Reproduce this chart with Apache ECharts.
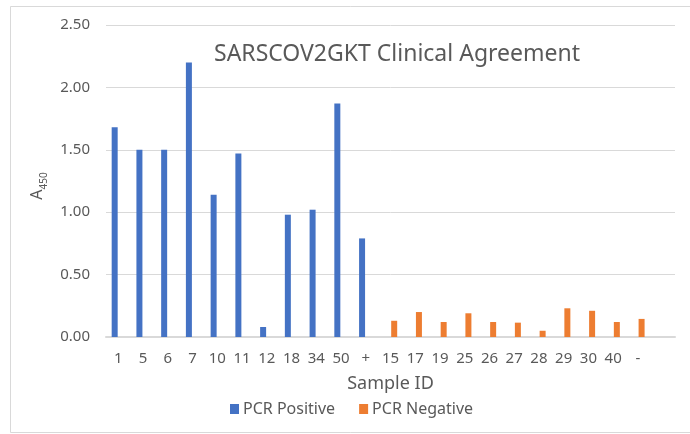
<!DOCTYPE html>
<html>
<head>
<meta charset="utf-8">
<script src="https://cdn.jsdelivr.net/npm/echarts@6/dist/echarts.min.js"></script>
<style>html,body{margin:0;padding:0;background:#fff;}#c{width:690px;height:434px;}</style>
</head>
<body>
<div id="c"></div>
<script>
const categories = ['1','5','6','7','10','11','12','18','34','50','+','15','17','19','25','26','27','28','29','30','40','-',''];
const pcrPositive = [1.68,1.50,1.50,2.20,1.14,1.47,0.08,0.98,1.02,1.87,0.79,null,null,null,null,null,null,null,null,null,null,null,null];
const pcrNegative = [null,null,null,null,null,null,null,null,null,null,null,0.13,0.20,0.12,0.19,0.12,0.115,0.05,0.23,0.21,0.12,0.145,null];
const yTicks = [0,0.5,1,1.5,2,2.5];

const FONT = '"Noto Sans", sans-serif';
const chart = echarts.init(document.getElementById('c'));
chart.setOption({
  animation: false,
  backgroundColor: '#fff',
  textStyle: {fontFamily: FONT},
  title: {
    text: 'SARSCOV2GKT Clinical Agreement',
    left: 392, top: 38, textAlign: 'center',
    textStyle: {fontSize: 23, fontWeight: 'normal', color: '#595959', fontFamily: FONT}
  },
  graphic: [{
    type: 'rect', left: 8, top: 4, shape: {width: 690, height: 426},
    style: {fill: 'none', stroke: '#d9d9d9', lineWidth: 1}, silent: true, z: -1
  }],
  legend: {
    left: 225, top: 396, itemWidth: 9, itemHeight: 10, itemGap: 24,
    icon: 'rect',
    textStyle: {fontSize: 16, color: '#595959', fontFamily: FONT, padding: [0,0,0,-1]},
    data: ['PCR Positive', 'PCR Negative']
  },
  grid: {left: 106, right: 15, top: 25, bottom: 97, containLabel: false},
  xAxis: {
    type: 'category', data: categories,
    name: 'Sample ID', nameLocation: 'middle', nameGap: 38,
    nameTextStyle: {fontSize: 18, color: '#595959', fontFamily: FONT},
    axisLine: {lineStyle: {color: '#d9d9d9', width: 2}},
    axisTick: {show: false},
    axisLabel: {fontSize: 15, color: '#595959', margin: 14, interval: 0, fontFamily: FONT}
  },
  yAxis: {
    type: 'value', min: yTicks[0], max: yTicks[yTicks.length-1], interval: 0.5,
    name: '{a|A}{s|450}', nameLocation: 'middle', nameGap: 46, nameRotate: 90,
    nameTextStyle: {
      color: '#595959', padding: [0, 10, 0, 0],
      rich: {
        a: {fontSize: 16, color: '#595959', fontFamily: FONT, lineHeight: 18, verticalAlign: 'bottom'},
        s: {fontSize: 10, color: '#595959', fontFamily: FONT, lineHeight: 18, verticalAlign: 'bottom', padding: [0,0,-4,0]}
      }
    },
    axisLine: {show: false},
    axisTick: {show: false},
    splitLine: {lineStyle: {color: '#d9d9d9', width: 1}},
    axisLabel: {fontSize: 15, color: '#595959', margin: 16, fontFamily: FONT,
      formatter: v => v.toFixed(2)}
  },
  series: [
    {name: 'PCR Positive', type: 'bar', data: pcrPositive, barWidth: 6, barGap: '23%',
      itemStyle: {color: '#4472C4'}},
    {name: 'PCR Negative', type: 'bar', data: pcrNegative, barWidth: 6,
      itemStyle: {color: '#ED7D31'}}
  ]
});
</script>
</body>
</html>
